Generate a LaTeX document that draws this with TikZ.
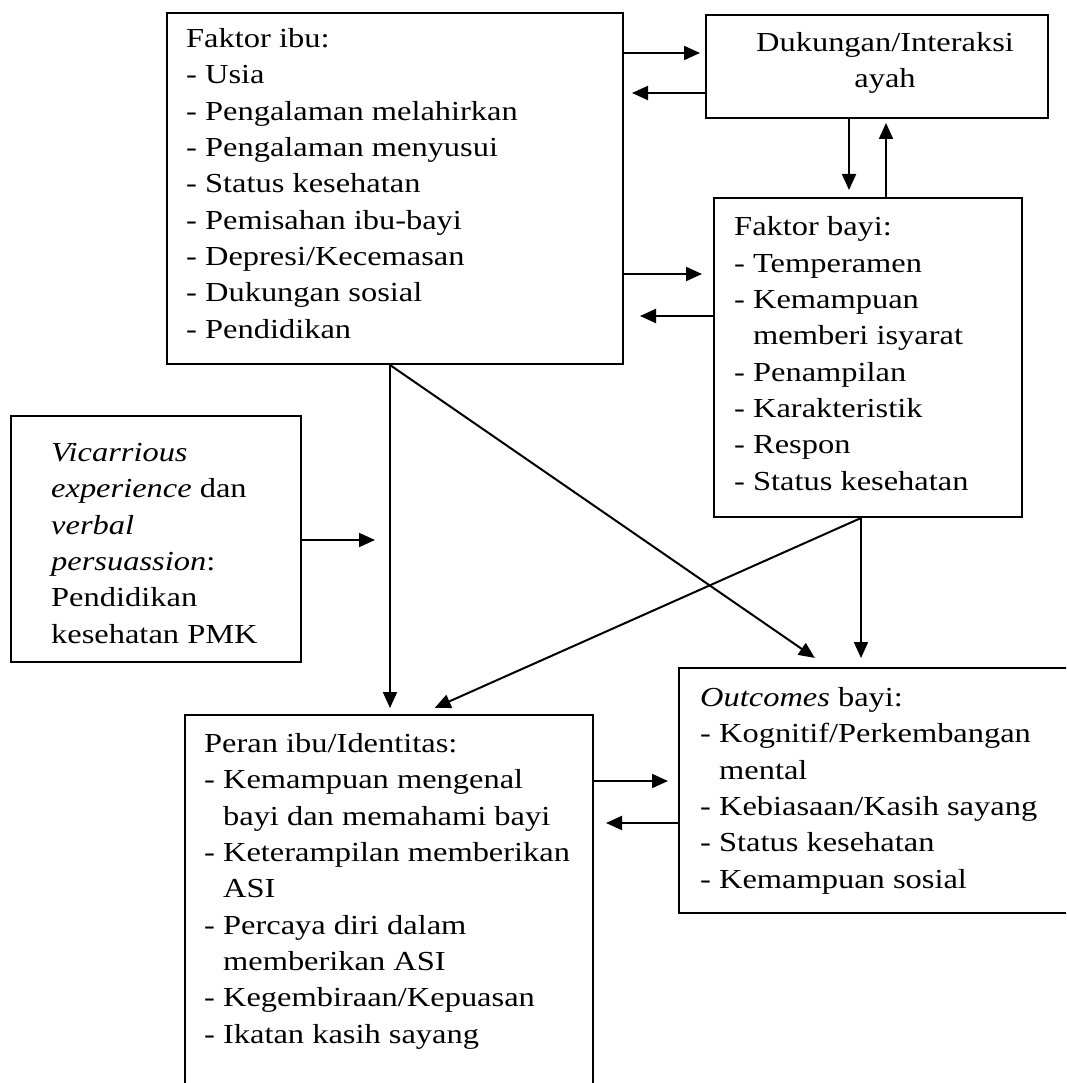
\documentclass[tikz,border=0pt]{standalone}
\usepackage{fontspec}
\setmainfont{Liberation Serif}[FakeStretch=1.18]
\usetikzlibrary{arrows.meta}
\begin{document}
\begin{tikzpicture}[x=1pt, y=-1pt,
        box/.style={draw, line width=2pt, anchor=north west, inner sep=0pt},
        lst/.style={anchor=base west, align=left, inner sep=0pt, font=\fontsize{27.5}{36.3}\selectfont},
        arr/.style={line width=2pt, -{Triangle[length=16pt, width=14pt]}}]
        \clip (0,0) rectangle (1066,1083);
        \fill[white] (0,0) rectangle (1066,1083);
        \node[box, minimum width=456pt, minimum height=351pt] (ibu) at (166,12) {};
        \node[box, minimum width=342pt, minimum height=103pt] (dukung) at (705,14) {};
        \node[box, minimum width=308pt, minimum height=319pt] (bayi) at (713,197) {};
        \node[box, minimum width=290pt, minimum height=246pt] (vic) at (10,415) {};
        \node[box, minimum width=408pt, minimum height=420pt] (peran) at (184,714) {};
        \node[box, minimum width=420pt, minimum height=245pt] (out) at (678,667) {};
        % the base anchor of these lists is the baseline of their last line
        \node[lst] (ibutxt) at (186,338) {Faktor ibu:\\- Usia\\- Pengalaman melahirkan\\- Pengalaman menyusui\\- Status kesehatan\\- Pemisahan ibu-bayi\\- Depresi/Kecemasan\\- Dukungan sosial\\- Pendidikan};
        \node[lst, anchor=base, align=center] (dukungtxt) at (885,88) {Dukungan/Interaksi\\ayah};
        \node[lst] (bayitxt) at (734,490) {Faktor bayi:\\- Temperamen\\- Kemampuan\\\hphantom{- }memberi isyarat\\- Penampilan\\- Karakteristik\\- Respon\\- Status kesehatan};
        \node[lst] (victxt) at (51,643) {\textit{Vicarrious}\\\textit{experience} dan\\\textit{verbal}\\\textit{persuassion}:\\Pendidikan\\kesehatan PMK};
        \node[lst] (perantxt) at (204,1043) {Peran ibu/Identitas:\\- Kemampuan mengenal\\\hphantom{- }bayi dan memahami bayi\\- Keterampilan memberikan\\\hphantom{- }ASI\\- Percaya diri dalam\\\hphantom{- }memberikan ASI\\- Kegembiraan/Kepuasan\\- Ikatan kasih sayang};
        \node[lst] (outtxt) at (700,888) {\textit{Outcomes} bayi:\\- Kognitif/Perkembangan\\\hphantom{- }mental\\- Kebiasaan/Kasih sayang\\- Status kesehatan\\- Kemampuan sosial};
        \coordinate (ibufoot) at (ibu.south -| 390,0);
        \coordinate (bayifoot) at (bayi.south -| 861,0);
        \draw[arr, shorten >=5pt] (ibu.east |- 0,53) -- (dukung.west |- 0,53);
        \draw[arr, shorten >=8pt] (dukung.west |- 0,93) -- (ibu.east |- 0,93);
        \draw[arr, shorten >=7pt] (dukung.south -| 849,0) -- (bayi.north -| 849,0);
        \draw[arr, shorten >=4pt] (bayi.north -| 886,0) -- (dukung.south -| 886,0);
        \draw[arr, shorten >=11pt] (ibu.east |- 0,274) -- (bayi.west |- 0,274);
        \draw[arr, shorten >=16pt] (bayi.west |- 0,316) -- (ibu.east |- 0,316);
        \draw[arr, shorten >=15pt] (vic.east |- 0,540) -- (ibufoot |- 0,540);
        \draw[arr, shorten >=6pt] (ibufoot) -- (peran.north -| ibufoot);
        \draw[arr, shorten >=16pt] (ibufoot) -- (out.north -| 828,0);
        \draw[arr, shorten >=9pt] (bayifoot) -- (out.north -| bayifoot);
        \draw[arr, shorten >=15pt] (bayifoot) -- (peran.north -| 421,0);
        \draw[arr, shorten >=10pt] (peran.east |- 0,781) -- (out.west |- 0,781);
        \draw[arr, shorten >=12pt] (out.west |- 0,823) -- (peran.east |- 0,823);
\end{tikzpicture}
\end{document}
